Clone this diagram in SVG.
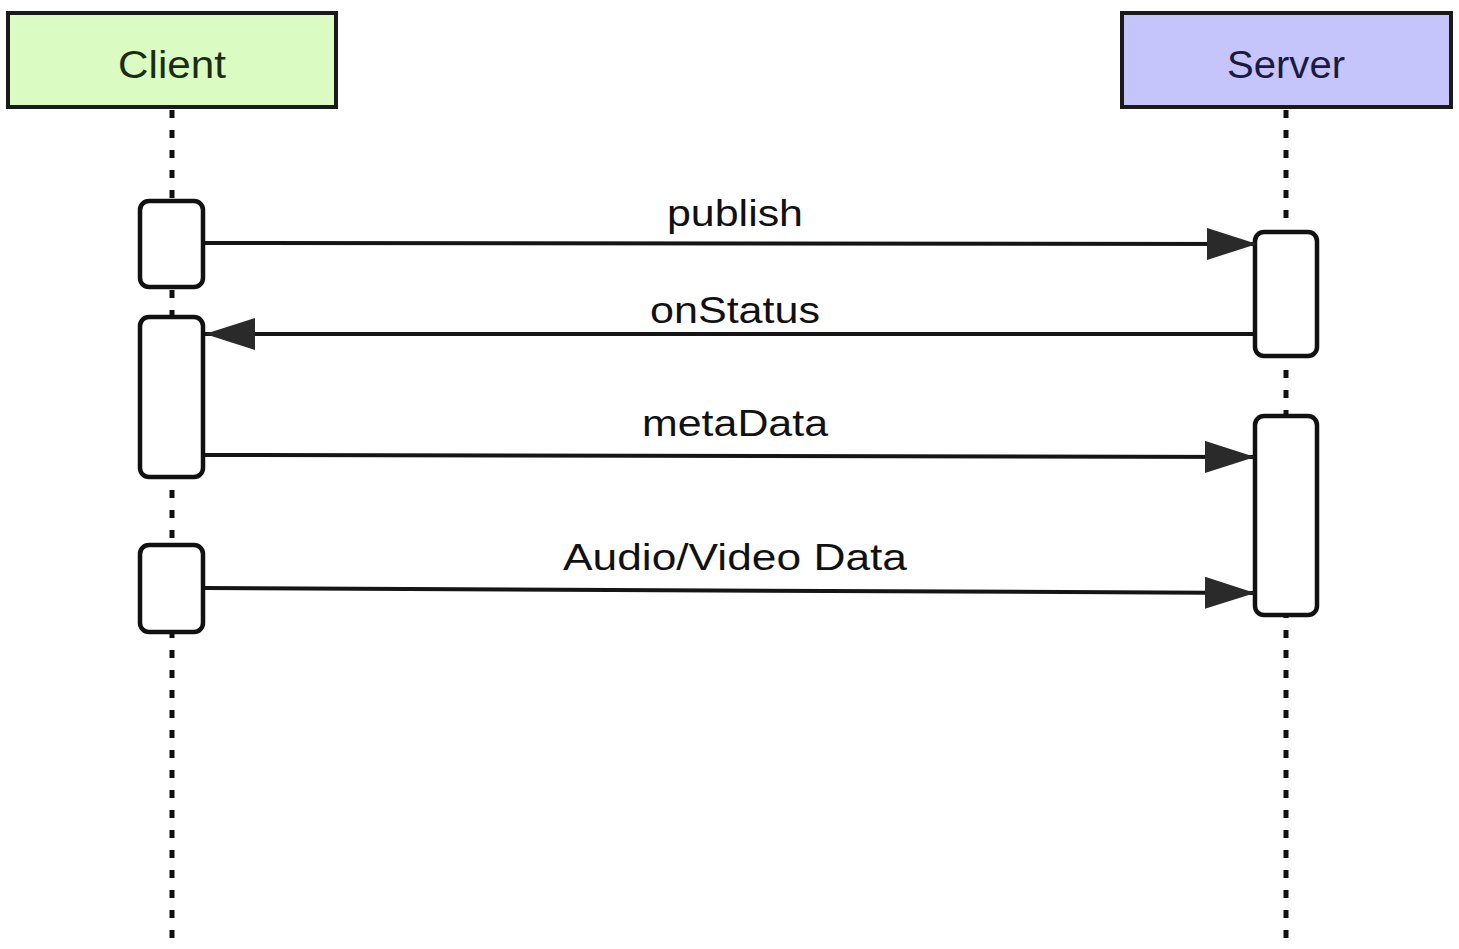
<svg xmlns="http://www.w3.org/2000/svg" width="1459" height="949" viewBox="0 0 1459 949">
<defs>
<style>
.actor{stroke:#1a1a1a;stroke-width:4}
.actor-text{font-family:"Liberation Sans",Arial,sans-serif;font-size:38px;text-anchor:middle}
.life{stroke:#111;stroke-width:5;stroke-dasharray:8 12;fill:none}
.act{fill:#fff;stroke:#111;stroke-width:4.5}
.msg{stroke:#151515;stroke-width:4;fill:none}
.label{font-family:"Liberation Sans",Arial,sans-serif;font-size:36px;fill:#111;text-anchor:middle}
</style>
<marker id="arrow" markerUnits="userSpaceOnUse" markerWidth="52" markerHeight="34" refX="50" refY="16" orient="auto">
<path d="M0,0 L50,16 L0,32 Z" fill="#2a2a2a"/>
</marker>
</defs>
<rect width="1459" height="949" fill="#fff"/>
<g id="lifelines">
<line class="life" x1="172" y1="110" x2="172" y2="949"/>
<line class="life" x1="1286" y1="110" x2="1286" y2="949"/>
</g>
<g id="client">
<rect class="actor" x="8" y="13" width="328" height="94" fill="#dafcc2"/>
<text class="actor-text" x="172" y="78" fill="#1c2c14" textLength="108" lengthAdjust="spacingAndGlyphs">Client</text>
</g>
<g id="server">
<rect class="actor" x="1122" y="13" width="329" height="94" fill="#c5c5fc"/>
<text class="actor-text" x="1286" y="78" fill="#1a1a40" textLength="118" lengthAdjust="spacingAndGlyphs">Server</text>
</g>
<g id="client-activations">
<rect class="act" x="140" y="201" width="63" height="86" rx="9"/>
<rect class="act" x="140" y="317" width="63" height="160" rx="9"/>
<rect class="act" x="140" y="545" width="63" height="87" rx="9"/>
</g>
<g id="server-activations">
<rect class="act" x="1255" y="232" width="62" height="124" rx="9"/>
<rect class="act" x="1255" y="416" width="62" height="199" rx="9"/>
</g>
<g id="connectors">
<line class="msg" x1="205" y1="243" x2="1257" y2="244" marker-end="url(#arrow)"/>
<line class="msg" x1="1253" y1="334" x2="205" y2="334" marker-end="url(#arrow)"/>
<line class="msg" x1="205" y1="455" x2="1255" y2="457" marker-end="url(#arrow)"/>
<line class="msg" x1="205" y1="588" x2="1255" y2="593" marker-end="url(#arrow)"/>
</g>
<g id="labels">
<text class="label" x="735" y="226" textLength="136" lengthAdjust="spacingAndGlyphs">publish</text>
<text class="label" x="735" y="323" textLength="170" lengthAdjust="spacingAndGlyphs">onStatus</text>
<text class="label" x="735" y="436" textLength="186" lengthAdjust="spacingAndGlyphs">metaData</text>
<text class="label" x="735" y="570" textLength="344" lengthAdjust="spacingAndGlyphs">Audio/Video Data</text>
</g>
</svg>
